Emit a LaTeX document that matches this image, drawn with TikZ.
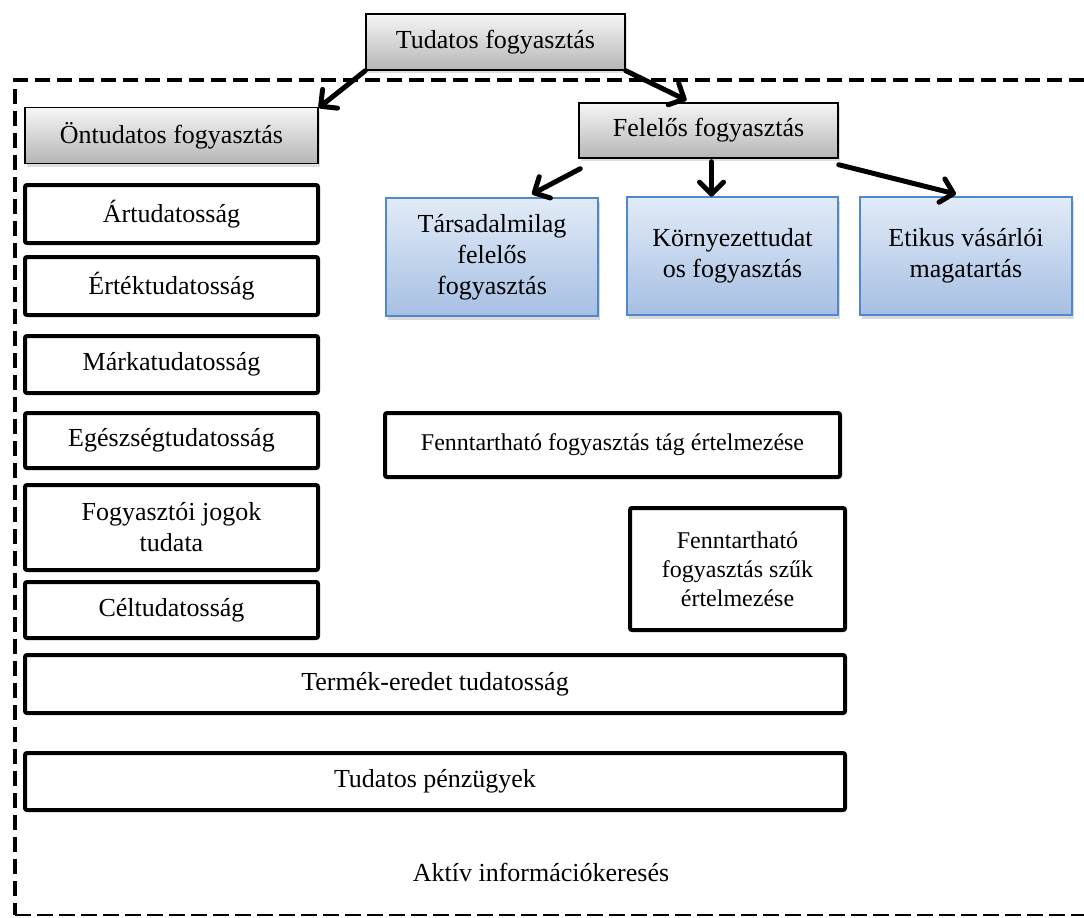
\documentclass[tikz,border=0pt]{standalone}
\usepackage{fontspec}
\setmainfont{Liberation Serif}
\usetikzlibrary{arrows.meta,shadows,calc}

\definecolor{greyTop}{HTML}{F6F6F6}
\definecolor{greyBot}{HTML}{B5B5B5}
\definecolor{blueTop}{HTML}{E2EBF7}
\definecolor{blueBot}{HTML}{A6BFE3}
\definecolor{blueEdge}{HTML}{4F88CC}

\tikzset{
  every node/.style={font=\fontsize{26}{31}\selectfont, align=center, inner sep=0pt},
  smalltext/.style={font=\fontsize{24}{29}\selectfont},
  greybox/.style={draw=black, line width=1.4pt, top color=greyTop, bottom color=greyBot,
    drop shadow={opacity=0.25, shadow xshift=2pt, shadow yshift=-3pt}},
  bluebox/.style={draw=blueEdge, line width=1.8pt, top color=blueTop, bottom color=blueBot,
    drop shadow={opacity=0.3, shadow xshift=1.5pt, shadow yshift=-4pt}},
  blackbox/.style={draw=black, line width=4pt, rounded corners=2pt, fill=white},
  link/.style={line width=5pt, line cap=round, -{Straight Barb[length=12pt,width=24pt,round]}},
  frametop/.style={line width=4pt, dash pattern=on 15pt off 7pt},
  framebottom/.style={line width=2.5pt, dash pattern=on 16pt off 6pt},
}

\begin{document}
\begin{tikzpicture}[x=1pt, y=-1pt]
\useasboundingbox (0,0) rectangle (1084,918);

% dashed frame (open on the right)
\draw[frametop] (1084,80) -- (15,80) -- (15,915);
\draw[framebottom] (15,915) -- (1084,915);

% top level
\node[greybox, minimum width=259pt, minimum height=56pt] (tud) at (495.5,42) {Tudatos fogyasztás};
\node[greybox, minimum width=293pt, minimum height=56pt] (ont) at (171.5,135.5) {Öntudatos fogyasztás};
\node[greybox, minimum width=259pt, minimum height=55pt] (fel) at (708.5,130.5) {Felelős fogyasztás};

% responsible consumption branches
\node[bluebox, minimum width=212pt, minimum height=118pt] (tar) at (492,257) {Társadalmilag\\felelős\\fogyasztás};
\node[bluebox, minimum width=211pt, minimum height=118pt] (kor) at (732.5,256) {Környezettudat\\os fogyasztás};
\node[bluebox, minimum width=212pt, minimum height=118pt] (eti) at (966,256) {Etikus vásárlói\\magatartás};

% self-conscious consumption items
\node[blackbox, minimum width=293pt, minimum height=58pt] (art) at (171.5,214) {Ártudatosság};
\node[blackbox, minimum width=293pt, minimum height=58pt] (ert) at (171.5,286) {Értéktudatosság};
\node[blackbox, minimum width=293pt, minimum height=57pt] (mar) at (171.5,364.5) {Márkatudatosság};
\node[blackbox, minimum width=293pt, minimum height=55pt] (ege) at (171.5,440.5) {Egészségtudatosság};
\node[blackbox, minimum width=293pt, minimum height=85pt] (fog) at (171.5,527.5) {Fogyasztói jogok\\tudata};
\node[blackbox, minimum width=293pt, minimum height=56pt] (cel) at (171.5,610) {Céltudatosság};
\node[blackbox, minimum width=820pt, minimum height=58pt] (ter) at (435,684) {Termék-eredet tudatosság};
\node[blackbox, minimum width=820pt, minimum height=57pt] (tpe) at (435,781.5) {Tudatos pénzügyek};

% sustainable consumption
\node[blackbox, smalltext, minimum width=455pt, minimum height=64pt] (tag) at (612.5,445) {Fenntartható fogyasztás tág értelmezése};
\node[blackbox, smalltext, minimum width=215pt, minimum height=122pt] (szu) at (737.5,569) {Fenntartható\\fogyasztás szűk\\értelmezése};

\node (akt) at (541,872) {Aktív információkeresés};

% connectors
\draw[link] (tud.south west) -- ($(ont.north east)+(0pt,-1pt)$);
\draw[link] (tud.south east) -- ($(fel.north)+(-22pt,2pt)$);
\draw[link] ($(fel.south west)+(2pt,-10pt)$) -- ($(tar.north)+(40pt,3pt)$);
\draw[link] ($(fel.south)+(3pt,-3pt)$) -- ($(fel.south)+(3pt,-38pt)$);
\draw[link] ($(fel.south east)+(0pt,-6pt)$) -- ($(eti.north)+(-10pt,2pt)$);
\end{tikzpicture}
\end{document}
